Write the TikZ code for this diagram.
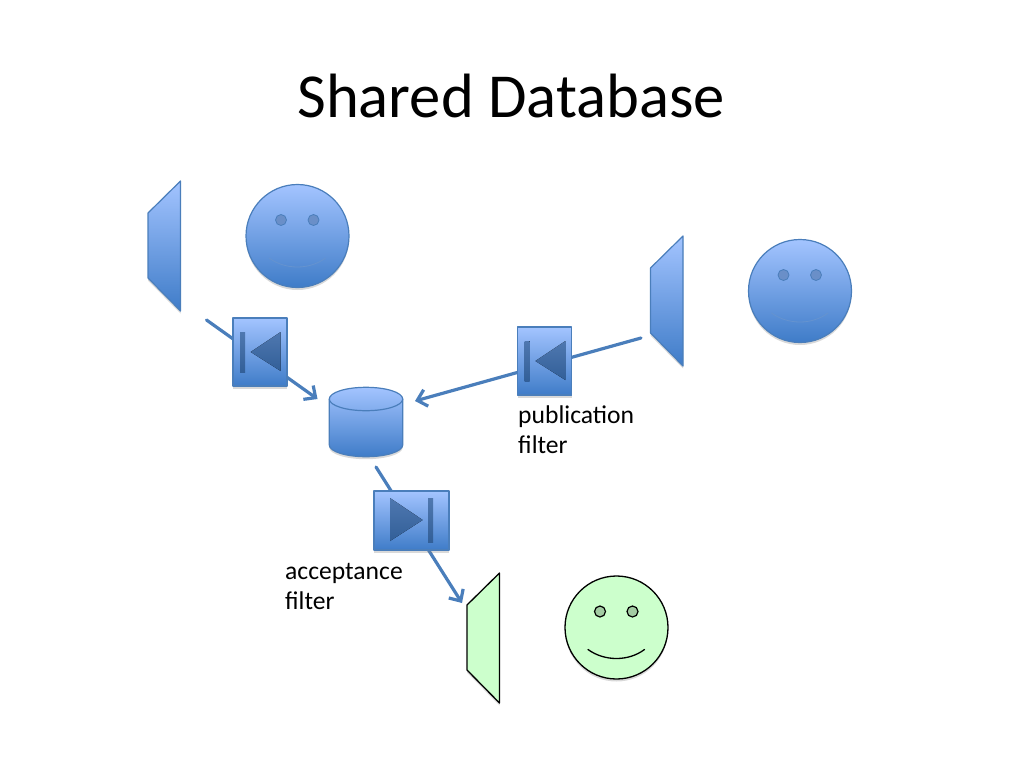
\documentclass[tikz,border=0pt]{standalone}
\usepackage{fontspec}
\setmainfont{Carlito}
\usetikzlibrary{arrows.meta}
\usetikzlibrary{shadows}
\definecolor{shapetop}{HTML}{A3C4FF}
\definecolor{shapebot}{HTML}{3F7CC8}
\definecolor{shapeline}{HTML}{4A7EBB}
\definecolor{eyeblue}{HTML}{6A8FC8}
\definecolor{glyphtop}{HTML}{4F78B0}
\definecolor{glyphbot}{HTML}{325F98}
\definecolor{mintfill}{HTML}{CCFFCC}
\definecolor{eyemint}{HTML}{A3CCA3}
\tikzset{softshadow/.style={drop shadow={opacity=0.3,shadow xshift=0pt,shadow yshift=-2.5pt}}}
\tikzset{blueshape/.style={draw=shapeline,line width=1.2pt,top color=shapetop,bottom color=shapebot,softshadow}}
\tikzset{mintshape/.style={draw=black,line width=1.3pt,fill=mintfill,softshadow}}
\tikzset{blueeye/.style={draw=shapeline,line width=0.8pt,fill=eyeblue}}
\tikzset{minteye/.style={draw=black,line width=1.2pt,fill=eyemint}}
\tikzset{bluesmile/.style={draw=shapeline!70!shapetop,line width=0.8pt}}
\tikzset{mintsmile/.style={draw=black,line width=1.3pt}}
\tikzset{glyph/.style={top color=glyphtop,bottom color=glyphbot}}
\tikzset{flow/.style={->,draw=shapeline,line width=3.2pt}}
\tikzset{label/.style={anchor=north west,inner sep=0pt,align=left,font=\fontsize{25.6}{30}\selectfont}}
\begin{document}
\begin{tikzpicture}[line cap=round,line join=round,>={Straight Barb[length=9pt,width=17pt]},x=1pt,y=-1pt]
	\useasboundingbox (0,0) rectangle (1024,768);
	\node[inner sep=0pt,font=\fontsize{62.6}{70}\selectfont] (title) at (511,96) {Shared Database};
	% screens and faces
	\foreach \n/\sx/\sy/\look in {a/0/0/blueshape,b/502.5/55/blueshape,c/319/392/mintshape}
		\draw[\look,shift={(\sx,\sy)}] (180.5,181) -- (148,213) -- (148,278) -- (180.5,311) -- cycle;
	\foreach \n/\cx/\cy/\look/\eye/\smile in {a/297.5/236/blueshape/blueeye/bluesmile,b/800/291/blueshape/blueeye/bluesmile,c/616.5/627.5/mintshape/minteye/mintsmile}
	{
		\node[\look,circle,inner sep=0pt,minimum size=103pt] (face\n) at (\cx,\cy) {};
		\begin{scope}[shift={(\cx,\cy)}]
			\draw[\eye] (-16.5,-16) circle (5.5pt);
			\draw[\eye] (16,-16) circle (5.5pt);
			\draw[\smile] (-28.5,22) .. controls (-12,34) and (12,34) .. (28,22);
		\end{scope}
	}
	% database
	\draw[blueshape] (329.3,399) .. controls (329.3,392.5) and (345.7,387.3) .. (366,387.3) .. controls (386.3,387.3) and (402.7,392.5) .. (402.7,399) -- (402.7,445) .. controls (402.7,451.5) and (386.3,456.7) .. (366,456.7) .. controls (345.7,456.7) and (329.3,451.5) .. (329.3,445) -- cycle;
	\draw[draw=shapeline,line width=1.2pt] (329.3,399) .. controls (329.3,405.5) and (345.7,410.7) .. (366,410.7) .. controls (386.3,410.7) and (402.7,405.5) .. (402.7,399);
	% connectors
	\coordinate (pubout) at (206.5,320);
	\coordinate (dbleft) at (317.5,399);
	\coordinate (subout) at (641,338);
	\coordinate (dbright) at (415,401);
	\coordinate (dbout) at (376,467);
	\coordinate (accin) at (462,603);
	\draw[flow] (pubout) -- (dbleft);
	\draw[flow] (subout) -- (dbright);
	\draw[flow] (dbout) -- (accin);
	% filters
	\node[blueshape,inner sep=0pt,minimum width=54pt,minimum height=68pt] (filterleft) at (260,352) {};
	\node[blueshape,inner sep=0pt,minimum width=54pt,minimum height=68pt] (filterpub) at (544.7,361) {};
	\node[blueshape,inner sep=0pt,minimum width=75pt,minimum height=59pt] (filteracc) at (411.5,520.5) {};
	\foreach \f in {filterleft,filterpub}
	{
		\begin{scope}[shift={(\f)}]
			\fill[glyph] (-20,-20) rectangle (-15,20);
			\fill[glyph] (-9.3,0) -- (20.7,-20) -- (20.7,19) -- cycle;
		\end{scope}
	}
	\begin{scope}[shift={(filteracc)}]
		\fill[glyph] (-21.5,-22.5) -- (11.2,-0.5) -- (-21.5,20.5) -- cycle;
		\fill[glyph] (16.5,-22.5) rectangle (21.5,21.5);
	\end{scope}
	\node[label] (publabel) at (518,406) {publication\\filter};
	\node[label] (acclabel) at (285,563) {acceptance\\filter};
\end{tikzpicture}
\end{document}
